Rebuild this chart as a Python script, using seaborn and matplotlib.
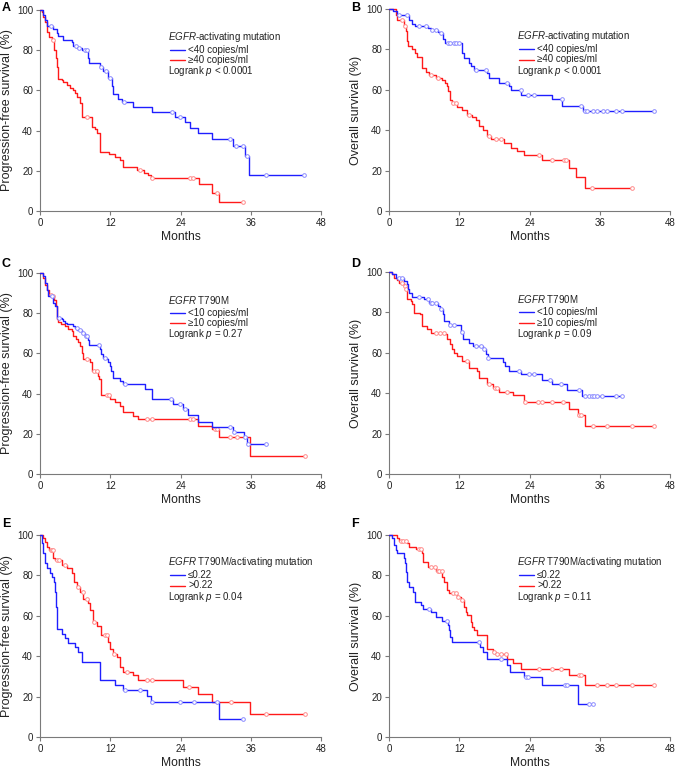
import numpy as np
import pandas as pd
import matplotlib
matplotlib.use("Agg")
import matplotlib.pyplot as plt
import seaborn as sns

sns.set_theme(style="white")
plt.rcParams['font.family'] = ['Liberation Sans', 'DejaVu Sans']
plt.rcParams['mathtext.fontset'] = 'custom'
plt.rcParams['mathtext.it'] = 'Liberation Sans:italic'
plt.rcParams['mathtext.rm'] = 'Liberation Sans'

# ---------------- data (months, survival %) ----------------
tA_b = [0, 0.57, 0.85, 1.25, 2.3, 2.85, 3.13, 4.0, 5.4, 5.7, 6.4, 7.1, 8.2, 8.4, 10.25, 10.8, 11.7, 12.3, 12.5, 13.4, 14.0, 15.9, 19.1, 23.1, 24.8, 25.6, 27.0, 29.4, 32.9, 35.0, 35.7]
sA_b = [100, 97.5, 95, 92, 90.4, 88.4, 87, 85, 84, 82, 81, 80, 76, 73.5, 71.8, 69.5, 66, 62, 58, 55.7, 54, 51.7, 49.3, 47, 44.1, 41.5, 38.6, 36, 32.5, 27.5, 17.9]
cA_b = [1.8, 6.1, 6.65, 7.7, 8.0, 10.5, 11.2, 12.0, 14.3, 22.5, 23.9, 32.5, 33.5, 34.6, 35.3, 38.6, 45.1]

tA_r = [0, 0.3, 0.57, 0.85, 1.14, 1.6, 2.0, 2.45, 2.68, 2.85, 3.02, 3.7, 4.0, 4.56, 5.1, 5.6, 6.0, 6.4, 6.8, 7.2, 8.8, 9.4, 9.8, 10.25, 11.8, 12.8, 13.7, 14.1, 16.5, 17.7, 18.5, 19.0, 27.2, 29.4, 30.5]
sA_r = [100, 99, 96.7, 94, 89, 86.7, 85, 80, 76, 71.8, 65.7, 65, 64, 62.7, 61.4, 60.2, 58.5, 56.5, 53.6, 47, 42, 41, 39, 29.5, 28.2, 27, 25.4, 22, 20.4, 19, 18, 16.5, 13.3, 9.1, 4.6]
cA_r = [2.3, 8.1, 17.1, 19.1, 25.6, 26.2, 30.2, 34.7]

tB_b = [0, 0.68, 1.4, 3.4, 3.9, 4.45, 6.6, 7.1, 8.3, 8.7, 9.2, 9.5, 12.4, 12.5, 12.8, 13.7, 14.0, 14.5, 16.8, 17.0, 18.8, 20.5, 20.8, 22.6, 27.9, 29.6, 33.1]
sB_b = [100, 98.8, 97.2, 94.4, 92.7, 91.4, 90.6, 89.8, 88.4, 88, 85, 83.1, 81.5, 78.2, 75.7, 73.2, 71.6, 69.9, 68.3, 65.8, 63.6, 62, 60, 57.5, 55.5, 52, 49.3]
cB_b = [1.7, 3.1, 5.1, 6.3, 7.4, 8.0, 8.8, 10.0, 10.5, 11.1, 11.5, 11.9, 14.8, 16.5, 20.2, 22.5, 23.7, 24.8, 29.5, 32.8, 33.4, 33.9, 34.8, 35.6, 36.5, 37.3, 38.7, 39.8, 45.2]

tB_r = [0, 1.14, 1.43, 2.57, 2.85, 3.14, 3.25, 4.0, 4.45, 4.85, 5.6, 5.7, 6.3, 6.8, 8.0, 9.1, 9.6, 9.9, 10.1, 10.5, 10.8, 11.7, 12.5, 13.4, 14.25, 14.8, 15.4, 16.0, 16.8, 17.4, 19.7, 20.8, 21.9, 23.1, 26.1, 30.7, 31.9, 33.4]
sB_r = [100, 97, 94.4, 91.4, 88.9, 84, 81.5, 80.2, 78.2, 76.2, 73.2, 70.7, 69, 67.4, 66, 65, 63.3, 61.7, 59.2, 55, 53.5, 51.7, 50.1, 47.6, 46.4, 45.1, 42.1, 40.2, 36.9, 35.5, 33.9, 31.1, 29.9, 27.8, 25.3, 21.2, 17, 11.2]
cB_r = [2.28, 2.74, 7.1, 8.3, 11.0, 11.4, 13.7, 17.1, 18.2, 19.1, 25.7, 27.8, 29.9, 30.3, 34.7, 41.5]

tC_b = [0, 0.57, 0.85, 1.14, 1.4, 2.28, 2.56, 2.85, 3.7, 4.0, 4.3, 4.56, 5.7, 6.0, 6.4, 7.1, 7.7, 8.26, 8.4, 10.25, 10.5, 10.8, 11.4, 11.7, 12.0, 12.2, 12.5, 13.7, 14.2, 17.9, 19.1, 22.8, 24.4, 25.3, 27.0, 29.4, 32.9, 34.9, 35.3]
sC_b = [100, 98.3, 95, 91.7, 88.8, 85, 83.5, 77.7, 76.9, 76, 75.2, 74.4, 73.6, 72.7, 71.6, 70.2, 68.6, 66.9, 64, 62, 59.5, 57.9, 57, 55.7, 53.7, 51.2, 47.6, 46.3, 44.6, 42.1, 37.2, 34.7, 32.2, 29.3, 26.1, 23.5, 20.7, 18.2, 14.9]
cC_b = [2.0, 3.3, 6.3, 6.8, 7.4, 7.9, 8.1, 10.1, 11.1, 14.5, 22.3, 23.9, 24.8, 32.5, 33.2, 35.1, 35.6, 38.6]

tC_r = [0, 0.46, 0.85, 1.14, 1.6, 2.0, 2.45, 2.68, 2.85, 3.13, 3.6, 4.27, 4.84, 5.4, 5.7, 6.15, 6.55, 6.83, 7.1, 7.3, 8.54, 8.8, 9.85, 10.1, 10.36, 10.5, 11.96, 12.8, 13.7, 14.1, 15.9, 16.8, 27.05, 29.4, 30.5, 35.9]
sC_r = [100, 97.5, 94.2, 91.7, 89.3, 88.8, 86.8, 83.5, 76.9, 75.5, 74.4, 73.6, 72.2, 71, 68.9, 67.3, 65.6, 63.6, 60.3, 57, 55.7, 51.2, 48.8, 47.1, 40.2, 39.2, 37.5, 36, 33.9, 30.6, 28.9, 27.3, 24, 22.3, 18.2, 9.1]
cC_r = [1.8, 2.28, 8.1, 9.3, 9.7, 11.4, 11.8, 18.2, 19.1, 25.6, 26.2, 29.9, 30.2, 32.5, 33.6, 45.2]

tD_b = [0, 0.57, 1.14, 2.57, 3.0, 3.3, 3.5, 3.9, 6.0, 6.8, 8.3, 8.7, 9.2, 9.4, 10.3, 12.25, 12.66, 13.7, 14.4, 16.0, 16.5, 16.9, 19.4, 19.8, 20.5, 22.5, 26.2, 27.9, 30.4, 33.0]
sD_b = [100, 98.8, 97.2, 95.6, 94, 91.4, 89.5, 87.8, 86.5, 84.8, 83.2, 81.9, 79.1, 75.8, 73.8, 70.3, 67, 64.7, 63.4, 61.8, 59.3, 57.2, 55.2, 53.5, 51, 49.4, 46.6, 44.5, 41.7, 38.7]
cD_b = [1.7, 2.28, 5.1, 6.6, 7.1, 7.4, 8.0, 8.95, 10.5, 11.1, 12.4, 14.8, 15.7, 16.25, 16.95, 22.2, 23.9, 24.8, 27.5, 29.4, 32.5, 33.4, 34.2, 34.7, 35.1, 35.6, 36.3, 38.7, 39.8]

tD_r = [0, 0.46, 0.86, 1.3, 1.7, 2.57, 2.85, 3.0, 3.7, 4.0, 4.3, 5.25, 5.6, 6.56, 7.1, 9.6, 9.9, 10.4, 10.7, 11.1, 11.7, 12.5, 13.6, 15.1, 15.4, 16.8, 17.7, 18.8, 21.1, 23.1, 30.7, 32.2, 33.4]
sD_r = [100, 98.8, 97.2, 96, 94.7, 93, 91.4, 86.5, 85.7, 84, 79.6, 79.1, 73.3, 71.7, 70, 69.2, 66.7, 64.2, 61.8, 60.1, 58.5, 56, 52.7, 51, 47.3, 44.5, 42.8, 40.4, 39, 35.4, 32.1, 29.2, 23.9]
cD_r = [2.28, 2.7, 2.95, 8.0, 8.7, 9.4, 13.3, 17.1, 18.1, 18.5, 20.2, 23.2, 25.4, 26.2, 27.8, 29.8, 32.5, 32.8, 34.8, 37.3, 41.5, 45.2]

tE_b = [0, 0.28, 0.57, 0.85, 1.14, 1.7, 2.0, 2.4, 2.56, 2.73, 2.96, 3.7, 4.27, 4.84, 6.0, 6.55, 7.1, 10.25, 12.8, 14.2, 18.2, 19.0, 30.5]
sE_b = [100, 95.9, 90.9, 86, 83.5, 81, 79.3, 76.9, 71.9, 64.5, 53.7, 51.2, 49.1, 46.6, 44.6, 42.1, 37.2, 28.1, 25.6, 23.1, 20.3, 17.4, 8.8]
cE_b = [14.5, 17.1, 19.1, 23.9, 26.3, 30.2, 34.7]

tE_r = [0, 0.57, 0.85, 1.14, 1.6, 2.28, 2.56, 3.7, 4.56, 5.4, 5.8, 6.4, 6.83, 7.4, 8.26, 8.54, 9.0, 9.7, 10.4, 11.7, 11.96, 12.5, 13.1, 13.7, 14.2, 15.9, 16.8, 24.4, 27.05, 29.4, 35.9]
sE_r = [100, 98.7, 96.7, 94.2, 92.6, 88.4, 87.6, 85.1, 83.5, 81, 76.9, 74.4, 71.9, 68.3, 66.1, 62.8, 57, 55, 50.4, 47.1, 43.8, 41.3, 39.7, 34.7, 32.2, 30.6, 28.1, 24.8, 21.5, 17.4, 11.6]
cE_r = [1.8, 2.0, 2.2, 2.96, 3.3, 4.27, 6.55, 7.3, 8.1, 9.3, 11.1, 11.5, 12.7, 14.8, 18.2, 19.1, 25.5, 32.6, 38.6, 45.2]

tF_b = [0, 0.57, 0.86, 1.14, 1.43, 2.57, 2.74, 2.96, 3.14, 3.42, 4.16, 4.39, 5.4, 5.8, 7.1, 8.0, 9.1, 10.1, 10.26, 10.5, 10.8, 15.5, 16.0, 16.8, 20.2, 20.6, 23.0, 26.2, 32.3]
sF_b = [100, 98.3, 95, 92.6, 90.9, 88.4, 86, 81.8, 76.9, 74.4, 71.9, 66.9, 65.3, 63.6, 62, 59.5, 57.4, 55.4, 52.9, 49.6, 47.1, 44.6, 42.1, 38.8, 35.5, 32.2, 29.8, 25.6, 16.5]
cF_b = [6.84, 9.98, 15.4, 19.1, 23.4, 23.8, 30.1, 30.4, 34.2, 34.8]

tF_r = [0, 1.43, 1.7, 3.14, 3.42, 4.56, 5.6, 5.8, 6.7, 8.0, 9.1, 9.4, 9.86, 10.26, 11.7, 12.26, 12.8, 13.1, 13.4, 14.0, 14.25, 14.5, 15.1, 16.8, 17.7, 18.2, 20.2, 21.1, 22.5, 30.8, 33.4]
sF_r = [100, 98.7, 97, 95.9, 94.2, 93, 90.9, 86.8, 84.3, 82.1, 79.3, 76.9, 72.7, 71.1, 69.4, 67.8, 64.5, 62, 60.3, 57, 54.5, 52.9, 50.4, 43.8, 42.1, 41.3, 38.8, 36.4, 33.9, 30.6, 25.6]
cF_r = [2.0, 2.45, 2.85, 5.13, 5.4, 7.1, 7.9, 8.3, 8.55, 9.0, 10.9, 11.4, 11.86, 12.4, 17.96, 18.5, 19.1, 19.95, 25.66, 27.8, 29.4, 32.4, 32.8, 35.6, 37.3, 38.7, 41.5, 45.2]

panel_letters = ["A", "B", "C", "D", "E", "F"]
ylabels = ["Progression-free survival (%)", "Overall survival (%)"] * 3
legend_titles = [r"$\it{EGFR}$-activating mutation"] * 2 + [r"$\it{EGFR}$ T790M"] * 2 + [r"$\it{EGFR}$ T790M/activating mutation"] * 2
blue_labels = ["<40 copies/ml"] * 2 + ["<10 copies/ml"] * 2 + ["\u22640.22"] * 2
red_labels = ["\u226540 copies/ml"] * 2 + ["\u226510 copies/ml"] * 2 + [">0.22"] * 2
pvals = [r"Logrank $\it{p}$ < 0.0001", r"Logrank $\it{p}$ < 0.0001", r"Logrank $\it{p}$ = 0.27",
         r"Logrank $\it{p}$ = 0.09", r"Logrank $\it{p}$ = 0.04", r"Logrank $\it{p}$ = 0.11"]
x_ticks = [0, 12, 24, 36, 48]
y_ticks = [0, 20, 40, 60, 80, 100]

curves = [
    (tA_b, sA_b, cA_b, tA_r, sA_r, cA_r),
    (tB_b, sB_b, cB_b, tB_r, sB_r, cB_r),
    (tC_b, sC_b, cC_b, tC_r, sC_r, cC_r),
    (tD_b, sD_b, cD_b, tD_r, sD_r, cD_r),
    (tE_b, sE_b, cE_b, tE_r, sE_r, cE_r),
    (tF_b, sF_b, cF_b, tF_r, sF_r, cF_r),
]

BLUE = "#1f1fff"
RED = "#ff1a1a"
BLUE_L = "#8c8cff"
RED_L = "#ff8c8c"
SPINE = "#7a7a7a"
TXT = "#222222"

fig = plt.figure(figsize=(6.76, 7.68), dpi=100)
W, H = 676, 768
boxes = [
    (40, 10, 281, 201), (389, 9, 281, 202),
    (40, 273, 281, 201), (389, 272, 281, 202),
    (40, 535, 281, 202), (389, 535, 281, 202),
]
letter_pos = [(2, 2), (351, 2), (2, 258), (351, 258), (2, 518), (351, 518)]


def build(t, s, c, group):
    t = list(t); s = list(s)
    end = max(c) if len(c) else t[-1]
    if end > t[-1]:
        t.append(end); s.append(s[-1])
    line = pd.DataFrame({"time": t, "surv": s, "group": group})
    ct = np.asarray(c)
    idx = np.searchsorted(np.asarray(t), ct, side="right") - 1
    cs = np.asarray(s)[idx]
    cens = pd.DataFrame({"time": ct, "surv": cs, "group": group})
    return line, cens


for i, (x0, y0, w, h) in enumerate(boxes):
    ax = fig.add_axes([x0 / W, 1 - (y0 + h) / H, w / W, h / H])
    tb, sb, cb, tr, sr, cr = curves[i]
    lb, cbd = build(tb, sb, cb, "blue")
    lr, crd = build(tr, sr, cr, "red")
    for line, cens, col, lcol, z in [(lr, crd, RED, RED_L, 3), (lb, cbd, BLUE, BLUE_L, 4)]:
        sns.lineplot(data=line, x="time", y="surv", ax=ax, color=col, lw=1.0,
                     drawstyle="steps-post", estimator=None, sort=False,
                     legend=False, zorder=z, clip_on=False)
        ax.scatter(cens["time"], cens["surv"], s=7, facecolors="white",
                   edgecolors=lcol, linewidths=0.7, zorder=z + 0.5, clip_on=False)

    ax.set_xlim(0, 48)
    ax.set_ylim(0, 100)
    ax.set_xticks(x_ticks)
    ax.set_yticks(y_ticks)
    for sp in ["top", "right"]:
        ax.spines[sp].set_visible(False)
    for sp in ["left", "bottom"]:
        ax.spines[sp].set_color(SPINE)
        ax.spines[sp].set_linewidth(0.8)
    ax.tick_params(axis="both", direction="out", length=3, width=0.8, color=SPINE,
                   labelsize=7, labelcolor=TXT, pad=2, left=True, bottom=True)
    ax.set_xlabel("Months", fontsize=8.7, color=TXT, labelpad=2)
    ax.set_ylabel(ylabels[i], fontsize=9, color=TXT, labelpad=3)
    ax.set_facecolor("none")

    # legend
    tx = 0.455
    ax.text(tx, 0.865, legend_titles[i], transform=ax.transAxes, fontsize=7,
            va="center", ha="left", color=TXT)
    ax.plot([0.462, 0.515], [0.80, 0.80], transform=ax.transAxes, color=BLUE, lw=1.0)
    ax.plot([0.462, 0.515], [0.75, 0.75], transform=ax.transAxes, color=RED, lw=1.0)
    ax.text(0.527, 0.80, blue_labels[i], transform=ax.transAxes, fontsize=7,
            va="center", ha="left", color=TXT)
    ax.text(0.527, 0.75, red_labels[i], transform=ax.transAxes, fontsize=7,
            va="center", ha="left", color=TXT)
    ax.text(tx, 0.695, pvals[i], transform=ax.transAxes, fontsize=7,
            va="center", ha="left", color=TXT)

    lx, ly = letter_pos[i]
    fig.text(lx / W, 1 - ly / H, panel_letters[i], fontsize=9, fontweight="bold",
             va="top", ha="left", color="black")

fig.savefig("out.png", dpi=100, facecolor="white")
